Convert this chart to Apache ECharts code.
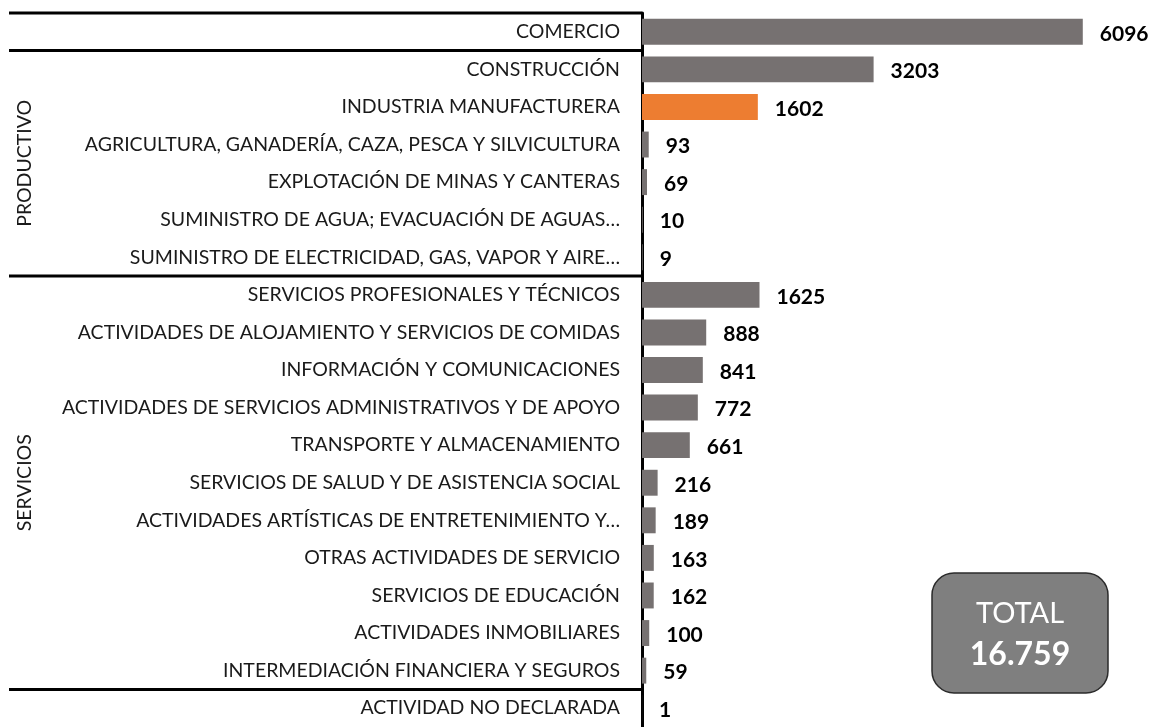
<!DOCTYPE html>
<html><head><meta charset="utf-8">
<script src="https://cdn.jsdelivr.net/npm/echarts@6/dist/echarts.min.js"></script>
<style>html,body{margin:0;padding:0;background:#fff}#c{width:1156px;height:727px}</style>
</head><body><div id="c"></div>
<script>
const categories = [
  'COMERCIO',
  'CONSTRUCCIÓN',
  'INDUSTRIA MANUFACTURERA',
  'AGRICULTURA, GANADERÍA, CAZA, PESCA Y SILVICULTURA',
  'EXPLOTACIÓN DE MINAS Y CANTERAS',
  'SUMINISTRO DE AGUA; EVACUACIÓN DE AGUAS…',
  'SUMINISTRO DE ELECTRICIDAD, GAS, VAPOR Y AIRE…',
  'SERVICIOS PROFESIONALES Y TÉCNICOS',
  'ACTIVIDADES DE ALOJAMIENTO Y SERVICIOS DE COMIDAS',
  'INFORMACIÓN Y COMUNICACIONES',
  'ACTIVIDADES DE SERVICIOS ADMINISTRATIVOS Y DE APOYO',
  'TRANSPORTE Y ALMACENAMIENTO',
  'SERVICIOS DE SALUD Y DE ASISTENCIA SOCIAL',
  'ACTIVIDADES ARTÍSTICAS DE ENTRETENIMIENTO Y…',
  'OTRAS ACTIVIDADES DE SERVICIO',
  'SERVICIOS DE EDUCACIÓN',
  'ACTIVIDADES INMOBILIARES',
  'INTERMEDIACIÓN FINANCIERA Y SEGUROS',
  'ACTIVIDAD NO DECLARADA'
];
const values = [6096, 3203, 1602, 93, 69, 10, 9, 1625, 888, 841, 772, 661, 216, 189, 163, 162, 100, 59, 1];
const highlighted = ['INDUSTRIA MANUFACTURERA'];
const groupNames = ['PRODUCTIVO', 'SERVICIOS'];
const groupFirst = ['CONSTRUCCIÓN', 'SERVICIOS PROFESIONALES Y TÉCNICOS'];
const groupLast = ['SUMINISTRO DE ELECTRICIDAD, GAS, VAPOR Y AIRE…', 'INTERMEDIACIÓN FINANCIERA Y SEGUROS'];
const separatorsBefore = ['COMERCIO', 'CONSTRUCCIÓN', 'SERVICIOS PROFESIONALES Y TÉCNICOS', 'ACTIVIDAD NO DECLARADA'];
const totalTitle = 'TOTAL';
const totalValue = '16.759';

const FONT = 'Lato';
const chart = echarts.init(document.getElementById('c'));
chart.setOption({
  animation: false,
  grid: {left: 642, top: 13, width: 470, height: 718},
  xAxis: {type: 'value', min: 0, max: 6500, show: false},
  yAxis: {
    type: 'category', data: categories, inverse: true,
    axisLine: {show: true, lineStyle: {color: '#000', width: 3}},
    axisTick: {show: false},
    splitLine: {show: false},
    axisLabel: {margin: 22, fontFamily: FONT, fontSize: 19.5, color: '#1a1a1a'}
  },
  series: [{
    type: 'bar',
    barCategoryGap: '31%',
    data: values.map((v, i) => ({
      value: v,
      itemStyle: {color: highlighted.includes(categories[i]) ? '#ED7D31' : '#767171'}
    })),
    label: {
      show: true, position: 'right', distance: 17, offset: [0, 2],
      fontFamily: FONT, fontSize: 21, fontWeight: 'bold', color: '#000'
    },
    z: 1
  }]
});

function yOf(cat) { return chart.convertToPixel({yAxisIndex: 0}, cat); }
const step = yOf(categories[1]) - yOf(categories[0]);
const xAxisPx = chart.convertToPixel({xAxisIndex: 0}, 0);
const graphics = [];
separatorsBefore.forEach(c => {
  const y = yOf(c) - step / 2;
  graphics.push({type: 'line', shape: {x1: 9, y1: y, x2: xAxisPx, y2: y}, style: {stroke: '#000', lineWidth: 3}, z: 10});
});
groupNames.forEach((g, i) => {
  const yc = (yOf(groupFirst[i]) + yOf(groupLast[i])) / 2;
  graphics.push({type: 'text', x: 25, y: yc, rotation: Math.PI / 2,
    style: {text: g, fontFamily: FONT, fontSize: 19.5, fill: '#1a1a1a', align: 'center', verticalAlign: 'middle'}});
});
graphics.push({type: 'rect', shape: {x: 932, y: 573, width: 176, height: 120, r: 22},
  style: {fill: '#7F7F7F', stroke: '#2b2b2b', lineWidth: 1.5}, z: 10});
graphics.push({type: 'text', x: 1020, y: 614, z: 11,
  style: {text: totalTitle, fontFamily: FONT, fontSize: 29, fill: '#fff', align: 'center', verticalAlign: 'middle'}});
graphics.push({type: 'text', x: 1020, y: 655, z: 11,
  style: {text: totalValue, fontFamily: FONT, fontSize: 32, fontWeight: 'bold', fill: '#fff', align: 'center', verticalAlign: 'middle'}});
chart.setOption({graphic: graphics});
</script></body></html>
